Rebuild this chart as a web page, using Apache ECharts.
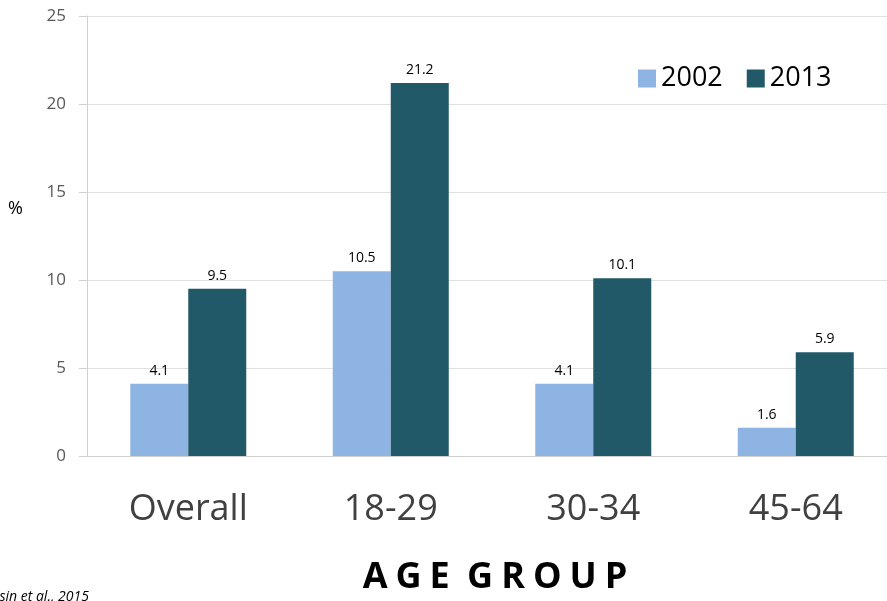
<!DOCTYPE html>
<html>
<head>
<meta charset="utf-8">
<script src="https://cdn.jsdelivr.net/npm/echarts@6/dist/echarts.min.js"></script>
<style>
  html, body { margin: 0; padding: 0; background: #fff; }
  #chart { width: 887px; height: 601px; }
</style>
</head>
<body>
<div id="chart"></div>
<script>
// Age groups on the x axis
const categories = ['Overall', '18-29', '30-34', '45-64'];
// Prevalence (%) per survey year
const values2002 = [4.1, 10.5, 4.1, 1.6];
const values2013 = [9.5, 21.2, 10.1, 5.9];
// Y axis ticks
const yTicks = { min: 0, max: 25, interval: 5 };

const font = '"Open Sans", "Noto Sans", sans-serif';
const chart = echarts.init(document.getElementById('chart'), null, { renderer: 'canvas' });

const labelStyle = {
  show: true,
  position: 'top',
  distance: 6,
  color: '#000',
  fontSize: 14,
  fontFamily: font
};

// Spaced-out axis title: each letter is a rich token with side padding
const axisTitle = 'AGE GROUP';
const spacedTitle = axisTitle.split('').map(ch => ch === ' ' ? '{s| }' : '{c|' + ch + '}').join('');

chart.setOption({
  animation: false,
  backgroundColor: '#fff',
  grid: { left: 87, width: 810, top: 16, bottom: 145, containLabel: false, outerBoundsMode: 'none' },
  legend: {
    data: ['2002', '2013'],
    left: 633,
    top: 60,
    itemWidth: 18,
    itemHeight: 18,
    itemGap: 24,
    icon: 'rect',
    textStyle: { fontSize: 27, color: '#000', fontFamily: font, padding: [0, 0, 0, 0] }
  },
  graphic: [
    {
      type: 'text', left: 8, top: 200,
      style: { text: '%', fontSize: 18, fill: '#000', fontFamily: font }
    },
    {
      type: 'text', x: 495, y: 560,
      style: {
        text: spacedTitle,
        align: 'center',
        fill: '#000',
        rich: {
          c: { fontSize: 36, fontWeight: 'bold', fontFamily: font, color: '#000', padding: [0, 4, 0, 4] },
          s: { fontSize: 36, fontWeight: 'bold', fontFamily: font, color: '#000' }
        }
      }
    },
    {
      type: 'text', left: -18, top: 590,
      style: { text: 'Hasin et al., 2015', fontSize: 14, fontStyle: 'italic', fill: '#000', fontFamily: font }
    }
  ],
  xAxis: {
    type: 'category',
    data: categories,
    axisLine: { show: true, lineStyle: { color: '#d0d0d0', width: 1 } },
    axisTick: { show: false },
    axisLabel: { fontSize: 36, color: '#404040', fontFamily: font, margin: 36 }
  },
  yAxis: {
    type: 'value',
    min: yTicks.min,
    max: yTicks.max,
    interval: yTicks.interval,
    axisLine: { show: true, lineStyle: { color: '#d0d0d0' } },
    axisTick: { show: true, length: 8, lineStyle: { color: '#d0d0d0' } },
    axisLabel: { fontSize: 17, color: '#595959', fontFamily: font, margin: 21 },
    splitLine: { show: true, lineStyle: { color: '#e0e0e0' } }
  },
  series: [
    {
      name: '2002', type: 'bar', data: values2002,
      barWidth: 58, barGap: '0%',
      itemStyle: { color: '#8EB4E3' },
      label: labelStyle
    },
    {
      name: '2013', type: 'bar', data: values2013,
      barWidth: 58, barGap: '0%',
      itemStyle: { color: '#215968' },
      label: labelStyle
    }
  ]
});
</script>
</body>
</html>
